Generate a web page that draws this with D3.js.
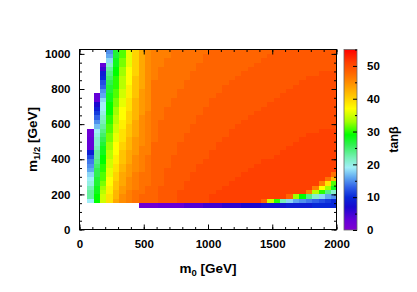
<!DOCTYPE html>
<html>
<head>
<meta charset="utf-8">
<script src="https://cdn.jsdelivr.net/npm/d3@7"></script>
<style>
  body { margin: 0; background: #fff; }
  svg text { font-family: "Liberation Sans", Arial, sans-serif; font-weight: bold; fill: #000; }
</style>
</head>
<body>
<div id="container"></div>
<script>
// grid cell centres (GeV)
const m0Values = [85, 135, 185, 235, 285, 335, 385, 435, 485, 535, 585, 635, 685, 735, 785, 835, 885, 935, 985,
                  1035, 1085, 1135, 1185, 1235, 1285, 1335, 1385, 1435, 1485, 1535, 1585, 1635, 1685, 1735, 1785,
                  1835, 1885, 1935, 1985];
const m12Values = [137.5, 162.5, 187.5, 212.5, 237.5, 262.5, 287.5, 312.5, 337.5, 362.5, 387.5, 412.5, 437.5,
                   462.5, 487.5, 512.5, 537.5, 562.5, 587.5, 612.5, 637.5, 662.5, 687.5, 712.5, 737.5, 762.5,
                   787.5, 812.5, 837.5, 862.5, 887.5, 912.5, 937.5, 962.5, 987.5, 1012.5];
const cellW = 50;
const cellH = 25;

// tan(beta) per cell, top row (m1/2 = 1012.5) first, one entry per m0 value, _ = no point
const _ = null;
const tanBetaRows = [
  [_,_,_,15,27,31,36,40,43,45,46,46,46,47,47,47,47,47,47,48,48,48,48,48,48,48,48,48,48,49,49,49,49,49,49,49,49,49,49],
  [_,_,_,16,27,31,36,40,43,45,46,46,46,47,47,47,47,47,48,48,48,48,48,48,48,48,48,48,49,49,49,49,49,49,49,49,49,49,49],
  [_,_,_,18,28,32,36,40,43,45,46,46,47,47,47,47,47,47,48,48,48,48,48,48,48,48,48,49,49,49,49,49,49,49,49,49,49,49,49],
  [_,_,3,21,28,32,36,40,43,45,46,46,47,47,47,47,47,48,48,48,48,48,48,48,48,48,49,49,49,49,49,49,49,49,49,49,49,49,49],
  [_,_,5,23,29,33,37,40,43,45,46,47,47,47,47,47,47,48,48,48,48,48,48,48,48,49,49,49,49,49,49,49,49,49,49,49,49,49,49],
  [_,_,9,24,29,33,37,40,43,45,46,47,47,47,47,47,48,48,48,48,48,48,48,48,49,49,49,49,49,49,49,49,49,49,49,49,50,50,50],
  [_,_,10,25,30,34,37,41,43,45,46,47,47,47,47,47,48,48,48,48,48,48,48,49,49,49,49,49,49,49,49,49,49,49,50,50,50,50,50],
  [_,_,12,26,30,34,37,41,43,45,47,47,47,47,47,48,48,48,48,48,48,48,49,49,49,49,49,49,49,49,49,49,49,50,50,50,50,50,50],
  [_,_,13,27,30,34,38,41,43,45,47,47,47,47,47,48,48,48,48,48,48,49,49,49,49,49,49,49,49,49,49,49,50,50,50,50,50,50,50],
  [_,_,15,27,31,35,38,41,44,45,47,47,47,47,48,48,48,48,48,48,48,49,49,49,49,49,49,49,49,49,49,50,50,50,50,50,50,50,50],
  [_,3,16,28,31,35,38,41,44,45,47,47,47,47,48,48,48,48,48,48,49,49,49,49,49,49,49,49,49,49,50,50,50,50,50,50,50,50,50],
  [_,3,18,28,32,36,39,42,44,45,47,47,47,48,48,48,48,48,48,49,49,49,49,49,49,49,49,49,49,50,50,50,50,50,50,50,50,50,50],
  [_,7,19,29,32,36,39,42,44,45,47,47,47,48,48,48,48,48,48,49,49,49,49,49,49,49,49,49,50,50,50,50,50,50,50,50,50,50,50],
  [_,9,19,29,33,37,39,42,44,45,47,47,48,48,48,48,48,48,49,49,49,49,49,49,49,49,49,50,50,50,50,50,50,50,50,50,50,50,50],
  [_,11,20,29,33,37,40,42,44,46,47,47,48,48,48,48,48,48,49,49,49,49,49,49,49,49,50,50,50,50,50,50,50,50,50,50,50,50,50],
  [_,13,21,30,34,37,40,42,45,46,47,47,48,48,48,48,48,49,49,49,49,49,49,49,49,50,50,50,50,50,50,50,50,50,50,50,50,50,50],
  [_,15,22,30,34,38,40,43,45,46,47,48,48,48,48,48,48,49,49,49,49,49,49,49,50,50,50,50,50,50,50,50,50,50,50,50,50,50,50],
  [_,17,23,31,35,38,41,43,45,46,47,48,48,48,48,48,49,49,49,49,49,49,49,50,50,50,50,50,50,50,50,50,50,50,50,50,50,50,50],
  [2,19,24,31,35,39,41,43,45,46,47,48,48,48,48,48,49,49,49,49,49,49,50,50,50,50,50,50,50,50,50,50,50,50,50,50,51,51,51],
  [2,20,25,32,36,39,41,43,45,46,47,48,48,48,48,49,49,49,49,49,49,49,50,50,50,50,50,50,50,50,50,50,50,50,51,51,51,51,51],
  [3,21,26,32,36,39,42,44,45,46,47,48,48,48,48,49,49,49,49,49,49,50,50,50,50,50,50,50,50,50,50,50,50,51,51,51,51,51,51],
  [3,21,27,33,37,40,42,44,45,46,48,48,48,48,49,49,49,49,49,49,50,50,50,50,50,50,50,50,50,50,50,50,51,51,51,51,51,51,51],
  [3,22,28,33,37,40,42,44,46,46,48,48,48,48,49,49,49,49,49,49,50,50,50,50,50,50,50,50,50,50,50,51,51,51,51,51,51,51,51],
  [9,23,28,34,37,41,43,44,46,46,48,48,48,48,49,49,49,49,49,50,50,50,50,50,50,50,50,50,50,50,51,51,51,51,51,51,51,51,51],
  [12,23,29,34,38,41,43,45,46,47,48,48,48,49,49,49,49,49,49,50,50,50,50,50,50,50,50,50,50,51,51,51,51,51,51,51,51,51,51],
  [14,24,29,35,38,41,43,45,46,47,48,48,48,49,49,49,49,49,50,50,50,50,50,50,50,50,50,51,51,51,51,51,51,51,51,51,51,51,51],
  [15,25,30,35,39,42,44,45,46,47,48,48,48,49,49,49,49,50,50,50,50,50,50,50,50,50,51,51,51,51,51,51,51,51,51,51,51,51,51],
  [16,26,30,36,39,42,44,45,46,47,48,48,49,49,49,49,49,50,50,50,50,50,50,50,50,51,51,51,51,51,51,51,51,51,51,51,51,51,51],
  [18,26,31,36,40,43,44,46,47,47,48,48,49,49,49,49,50,50,50,50,50,50,50,50,51,51,51,51,51,51,51,51,51,51,51,51,51,51,47],
  [19,27,31,37,40,43,45,46,47,47,48,48,49,49,49,49,50,50,50,50,50,50,50,51,51,51,51,51,51,51,51,51,51,51,51,51,51,47,42],
  [20,27,32,37,41,43,45,46,47,47,48,48,49,49,49,50,50,50,50,50,50,50,51,51,51,51,51,51,51,51,51,51,51,51,51,51,46,39,31],
  [22,28,33,38,41,44,45,46,47,48,48,49,49,49,49,50,50,50,50,50,50,51,51,51,51,51,51,51,51,51,51,51,51,51,51,46,37,33,28],
  [23,28,34,38,42,44,46,47,47,48,48,49,49,49,50,50,50,50,50,50,51,51,51,51,51,51,51,51,51,51,51,51,51,51,46,34,30,24,21],
  [23,29,35,39,42,45,46,47,48,48,48,49,49,49,50,50,50,50,50,51,51,51,51,51,51,51,51,51,51,51,51,48,33,29,24,21,18,16,15],
  [19,29,35,39,43,45,46,47,48,48,48,49,49,49,50,50,50,50,50,51,51,51,51,51,51,51,51,48,35,30,22,18,16,15,14,13,12,11,10],
  [_,_,_,_,_,_,_,_,2,2,2,3,3,3,3,4,4,4,5,5,5,6,6,6,7,7,7,8,8,8,8,9,9,9,9,10,10,10,10]
];

// axis ticks
const xTicks = [0, 500, 1000, 1500, 2000];
const yTicks = [0, 200, 400, 600, 800, 1000];
const zTicks = [0, 10, 20, 30, 40, 50];

// colour palette (tan beta -> colour)
const paletteStops = [0, 3, 7, 10, 13, 16, 19, 22, 26, 29, 33, 37, 41, 45, 48, 51, 53, 55];
const paletteColors = ["#8000d0", "#6400d8", "#1808d0", "#0828d8", "#3060e8", "#60a8f0", "#a0eef8",
                       "#78f0b8", "#30f050", "#00ff00", "#a0ff00", "#ffff00", "#ffc400", "#ff8c00",
                       "#ff6400", "#ff4000", "#ff2000", "#ff0000"];

// set dimensions
const w = 417;
const h = 292;
const plotL = 79.5, plotR = 336.5, plotT = 49.5, plotB = 229.5;
const barL = 344, barR = 357;
const fmt = d3.format("d");

// set the ranges
const xScale = d3.scaleLinear().domain([0, 2000]).range([plotL, plotR]);
const yScale = d3.scaleLinear().domain([0, 1025]).range([plotB, plotT]);
const zScale = d3.scaleLinear().domain([0, 55]).range([230, plotT]);
const myColor = d3.scaleLinear().domain(paletteStops).range(paletteColors).clamp(true);

// flatten the rows into cells
const cells = [];
tanBetaRows.forEach(function(row, i){
    const m12 = m12Values[m12Values.length - 1 - i];
    row.forEach(function(v, k){
        if (v === null) return;
        cells.push({m0: m0Values[k], m12: m12, tb: v});
    });
});

const svg = d3.select("#container")
              .append("svg")
              .attr("width", w)
              .attr("height", h);

svg.append("clipPath")
   .attr("id", "plotclip")
   .append("rect")
   .attr("x", plotL)
   .attr("y", plotT)
   .attr("width", plotR - plotL)
   .attr("height", plotB - plotT);

// add the plot
svg.append("g")
   .attr("clip-path", "url(#plotclip)")
   .selectAll("rect")
   .data(cells)
   .enter()
   .append("rect")
   .attr("x", (d) => xScale(d.m0 - cellW / 2))
   .attr("y", (d) => yScale(d.m12 + cellH / 2))
   .attr("width", (d) => xScale(d.m0 + cellW / 2) - xScale(d.m0 - cellW / 2))
   .attr("height", (d) => yScale(d.m12 - cellH / 2) - yScale(d.m12 + cellH / 2))
   .attr("shape-rendering", "crispEdges")
   .style("fill", (d) => myColor(d.tb));

// axes: major + minor ticks on all four sides, pointing inward
function styleAxis(g){
    g.attr("font-size", null).attr("font-family", null);
    g.select(".domain").remove();
    g.selectAll("line").attr("stroke", "#000");
    g.selectAll("text").style("font-size", "11.5px");
}

svg.append("g")
   .attr("transform", "translate(0," + plotB + ")")
   .call(d3.axisBottom(xScale).tickValues(xTicks).tickFormat(fmt).tickSize(-5).tickPadding(10))
   .call(styleAxis);
svg.append("g")
   .attr("transform", "translate(0," + plotB + ")")
   .call(d3.axisBottom(xScale).tickValues(d3.range(0, 2001, 100)).tickSize(-2.5).tickFormat(""))
   .call(styleAxis);
svg.append("g")
   .attr("transform", "translate(0," + plotT + ")")
   .call(d3.axisTop(xScale).tickValues(xTicks).tickSize(-5).tickFormat(""))
   .call(styleAxis);
svg.append("g")
   .attr("transform", "translate(0," + plotT + ")")
   .call(d3.axisTop(xScale).tickValues(d3.range(0, 2001, 100)).tickSize(-2.5).tickFormat(""))
   .call(styleAxis);

svg.append("g")
   .attr("transform", "translate(" + plotL + ",0)")
   .call(d3.axisLeft(yScale).tickValues(yTicks).tickFormat(fmt).tickSize(-5).tickPadding(9))
   .call(styleAxis);
svg.append("g")
   .attr("transform", "translate(" + plotL + ",0)")
   .call(d3.axisLeft(yScale).tickValues(d3.range(0, 1001, 50)).tickSize(-2.5).tickFormat(""))
   .call(styleAxis);
svg.append("g")
   .attr("transform", "translate(" + plotR + ",0)")
   .call(d3.axisRight(yScale).tickValues(yTicks).tickSize(-5).tickFormat(""))
   .call(styleAxis);
svg.append("g")
   .attr("transform", "translate(" + plotR + ",0)")
   .call(d3.axisRight(yScale).tickValues(d3.range(0, 1001, 50)).tickSize(-2.5).tickFormat(""))
   .call(styleAxis);

// frame
svg.append("rect")
   .attr("x", plotL)
   .attr("y", plotT)
   .attr("width", plotR - plotL)
   .attr("height", plotB - plotT)
   .attr("fill", "none")
   .attr("stroke", "#000");

// colour bar
const grad = svg.append("defs")
                .append("linearGradient")
                .attr("id", "bargrad")
                .attr("x1", 0).attr("y1", 1)
                .attr("x2", 0).attr("y2", 0);
paletteStops.forEach(function(s, i){
    grad.append("stop")
        .attr("offset", s / 55)
        .attr("stop-color", paletteColors[i]);
});
svg.append("rect")
   .attr("x", barL)
   .attr("y", zScale(55))
   .attr("width", barR - barL)
   .attr("height", zScale(0) - zScale(55))
   .attr("fill", "url(#bargrad)")
   .attr("stroke", "#666")
   .attr("stroke-width", 0.8);

svg.append("g")
   .attr("transform", "translate(" + barR + ",0)")
   .call(d3.axisRight(zScale).tickValues(zTicks).tickFormat(fmt).tickSize(-4).tickPadding(10))
   .call(styleAxis);
svg.append("g")
   .attr("transform", "translate(" + barR + ",0)")
   .call(d3.axisRight(zScale).tickValues(d3.range(5, 56, 10)).tickSize(-2).tickFormat(""))
   .call(styleAxis);

// axis titles
const xTitle = svg.append("text")
                  .attr("x", (plotL + plotR) / 2)
                  .attr("y", 273)
                  .attr("text-anchor", "middle")
                  .style("font-size", "13.5px");
xTitle.append("tspan").text("m");
xTitle.append("tspan").attr("dy", 3).style("font-size", "9.5px").text("0");
xTitle.append("tspan").attr("dy", -3).text(" [GeV]");

const yTitle = svg.append("text")
                  .attr("transform", "translate(37," + ((plotT + plotB) / 2) + ") rotate(-90)")
                  .attr("text-anchor", "middle")
                  .style("font-size", "13.5px");
yTitle.append("tspan").text("m");
yTitle.append("tspan").attr("dy", 3).style("font-size", "9.5px").text("1/2");
yTitle.append("tspan").attr("dy", -3).text(" [GeV]");

svg.append("text")
   .attr("transform", "translate(398," + ((plotT + plotB) / 2) + ") rotate(-90)")
   .attr("text-anchor", "middle")
   .style("font-size", "12.5px")
   .text("tanβ");
</script>
</body>
</html>
